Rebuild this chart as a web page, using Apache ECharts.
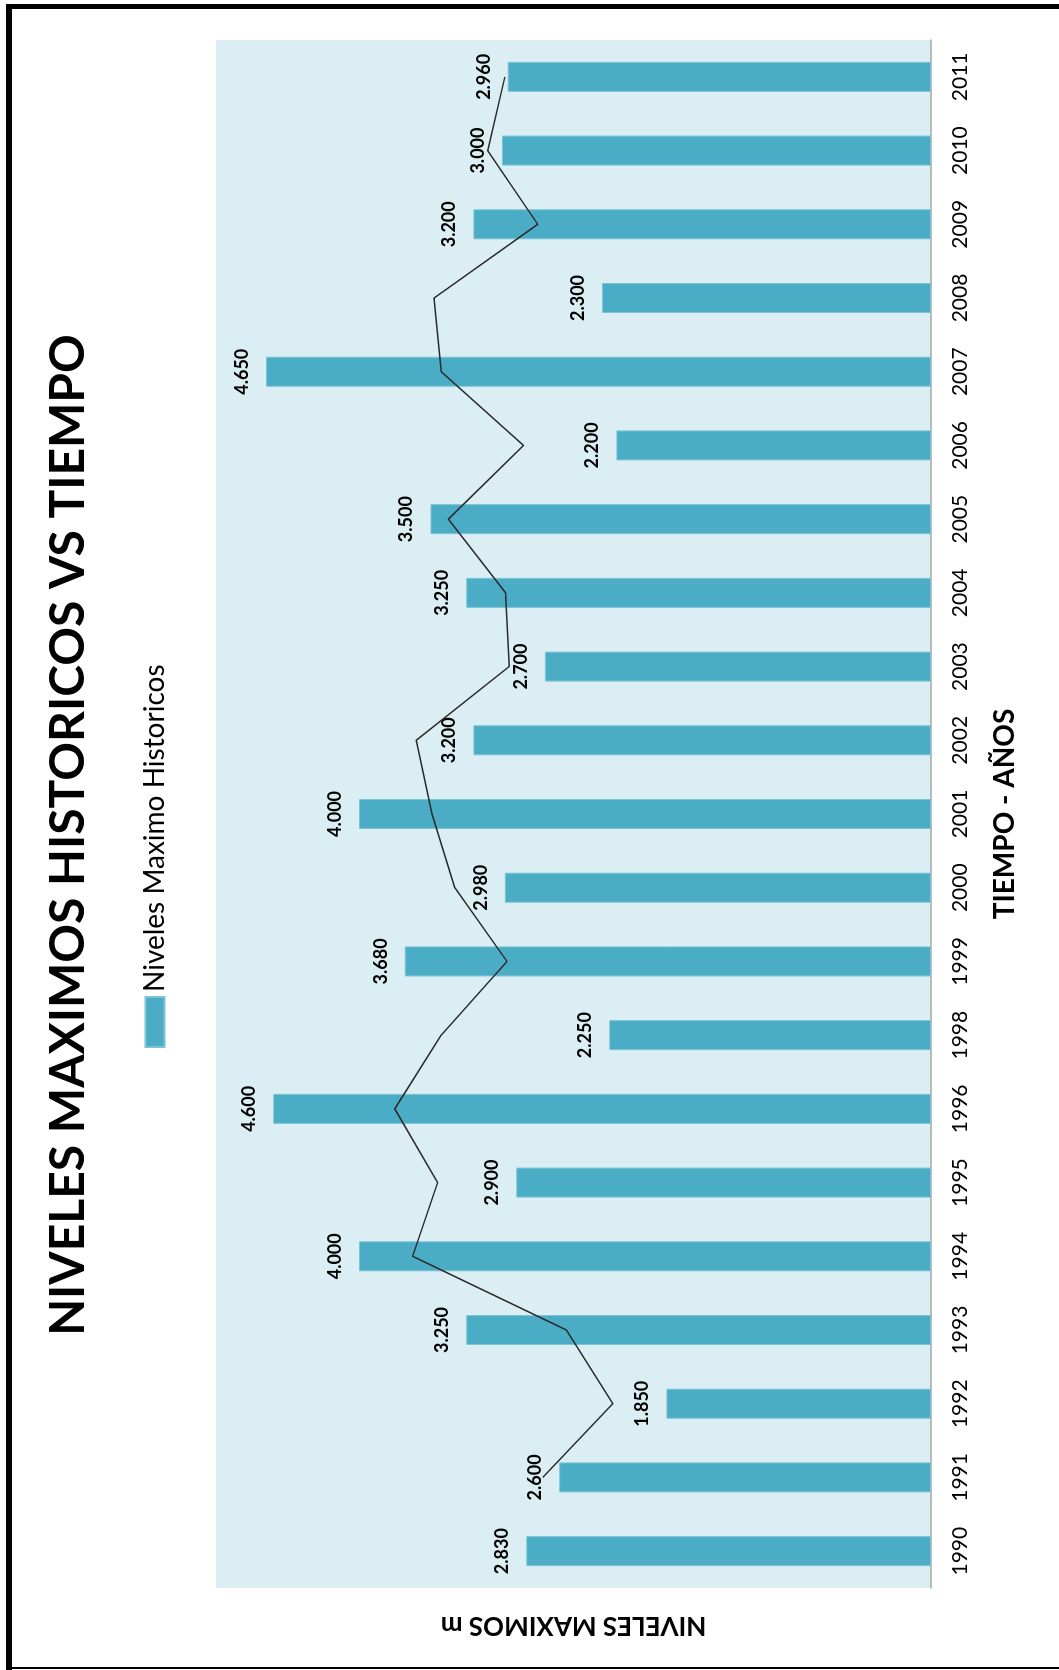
<!DOCTYPE html>
<html>
<head>
<meta charset="utf-8">
<script src="https://cdn.jsdelivr.net/npm/echarts@6/dist/echarts.min.js"></script>
<style>
  html, body { margin: 0; padding: 0; background: #fff; overflow: hidden; }
  body { width: 1059px; height: 1670px; position: relative; }
  #chart { position: absolute; left: 0; top: 0; width: 1670px; height: 1059px;
           transform-origin: 0 0; transform: translate(0, 1670px) rotate(-90deg); }
</style>
</head>
<body>
<div id="chart"></div>
<script>
// ---- data ----
const years = ['1990','1991','1992','1993','1994','1995','1996','1998','1999','2000','2001','2002','2003','2004','2005','2006','2007','2008','2009','2010','2011'];
const levels = [2.83, 2.60, 1.85, 3.25, 4.00, 2.90, 4.60, 2.25, 3.68, 2.98, 4.00, 3.20, 2.70, 3.25, 3.50, 2.20, 4.65, 2.30, 3.20, 3.00, 2.96];
// black trend line (2-period moving average as drawn in the picture)
const trend = [null, 2.715, 2.225, 2.55, 3.625, 3.45, 3.75, 3.425, 2.965, 3.33, 3.49, 3.60, 2.95, 2.975, 3.375, 2.85, 3.425, 3.475, 2.75, 3.10, 2.98];
const seriesName = 'Niveles Maximo Historicos';
const titleText = 'NIVELES MAXIMOS HISTORICOS VS TIEMPO';
const xName = 'TIEMPO - AÑOS';
const yName = 'NIVELES MAXIMOS m';

const FONT = 'Lato, "Open Sans", "Liberation Sans", sans-serif';
const chart = echarts.init(document.getElementById('chart'), null, { width: 1670, height: 1059, renderer: 'canvas' });

chart.setOption({
  backgroundColor: '#ffffff',
  animation: false,
  title: {
    text: titleText,
    left: 'center',
    top: 40,
    textStyle: { fontFamily: FONT, fontWeight: 'bold', fontSize: 48, color: '#000' }
  },
  legend: {
    data: [{ name: seriesName, icon: 'rect' }],
    left: 617,
    top: 136,
    itemWidth: 50,
    itemHeight: 19,
    textStyle: { fontFamily: FONT, fontSize: 28, color: '#000' }
  },
  grid: {
    left: 82, right: 40, top: 216, bottom: 128,
    show: true, backgroundColor: '#DBEEF3', borderWidth: 0
  },
  xAxis: {
    type: 'category',
    data: years,
    name: xName,
    nameLocation: 'middle',
    nameGap: 60,
    nameTextStyle: { fontFamily: FONT, fontWeight: 'bold', fontSize: 28, color: '#000' },
    axisLine: { show: true, lineStyle: { color: '#A6A6A6', width: 1.5 } },
    axisTick: { show: false },
    axisLabel: { fontFamily: FONT, fontSize: 21, color: '#000', margin: 19 }
  },
  yAxis: {
    type: 'value',
    min: 0, max: 5,
    name: yName,
    nameLocation: 'middle',
    nameGap: 24,
    nameTextStyle: { fontFamily: FONT, fontWeight: 'bold', fontSize: 26, color: '#000' },
    axisLine: { show: false },
    axisTick: { show: false },
    axisLabel: { show: false },
    splitLine: { show: false }
  },
  series: [
    {
      name: seriesName,
      type: 'bar',
      data: levels,
      barWidth: 30,
      itemStyle: { color: '#4BACC6', borderColor: '#7CC3D6', borderWidth: 1 },
      label: {
        show: true, position: 'top', distance: 15,
        fontFamily: FONT, fontWeight: 'bold', fontSize: 18, color: '#000',
        formatter: p => p.value.toFixed(3)
      },
      z: 2
    },
    {
      name: 'tendencia',
      type: 'line',
      data: trend,
      showSymbol: false,
      symbol: 'none',
      lineStyle: { color: '#2b2b2b', width: 1.5 },
      connectNulls: false,
      z: 3
    }
  ],
  graphic: [
    { type: 'rect', silent: true, shape: { x: 0, y: 6, width: 1666, height: 6 }, style: { fill: '#000' } },
    { type: 'rect', silent: true, shape: { x: 1661, y: 6, width: 5, height: 1053 }, style: { fill: '#000' } },
    { type: 'rect', silent: true, shape: { x: 1, y: 6, width: 2, height: 1053 }, style: { fill: '#000' } }
  ]
});
</script>
</body>
</html>
